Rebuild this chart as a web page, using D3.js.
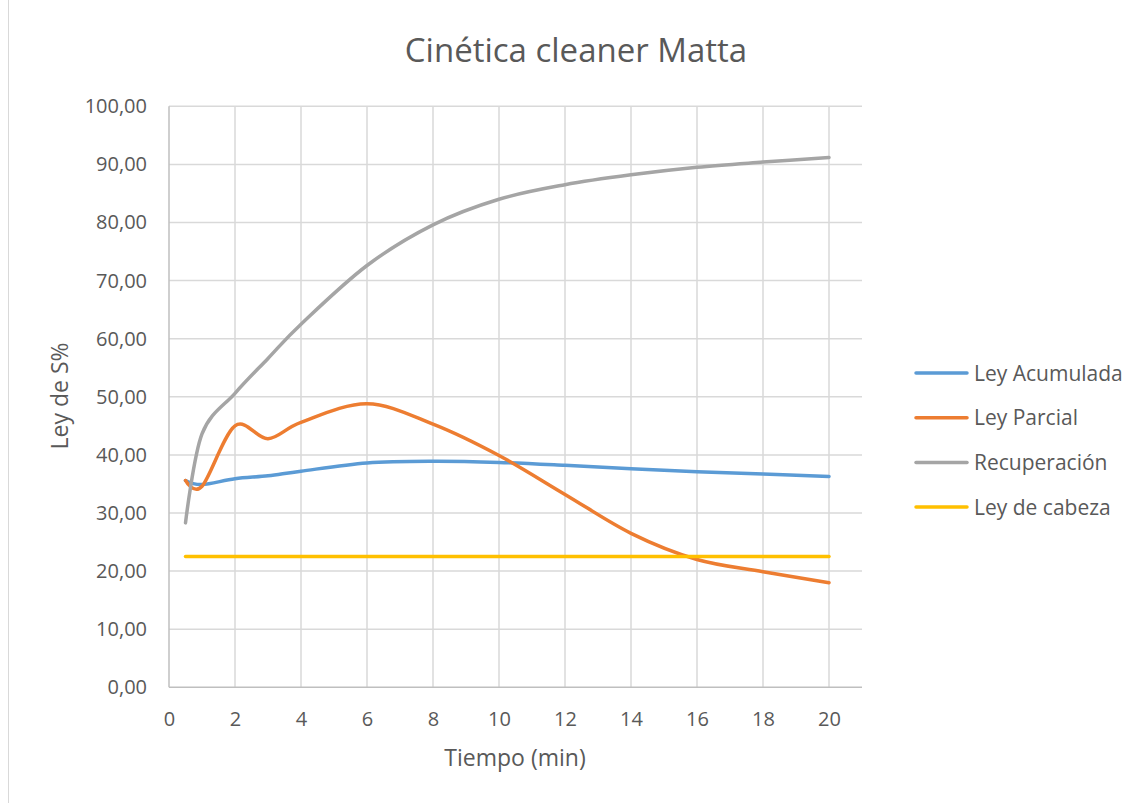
<!DOCTYPE html>
<html>
<head>
<meta charset="utf-8">
<script src="https://cdn.jsdelivr.net/npm/d3@7"></script>
<style>
  html, body { margin: 0; padding: 0; background: #fff; }
  svg { display: block; font-family: "Open Sans", "Liberation Sans", sans-serif; }
</style>
</head>
<body>
<svg id="chart" width="1142" height="803"></svg>
<script>
// Sampling times (min)
const tiempo = [0.5, 1, 2, 3, 4, 6, 8, 10, 12, 14, 16, 18, 20];

// Series values (% S)
const leyAcumulada = [35.6, 34.9, 35.9, 36.4, 37.2, 38.6, 38.9, 38.7, 38.2, 37.6, 37.1, 36.7, 36.3];
const leyParcial   = [35.6, 34.6, 45.0, 42.8, 45.6, 48.8, 45.3, 39.9, 33.2, 26.5, 22.0, 19.9, 18.0];
const recuperacion = [28.3, 43.6, 50.6, 56.6, 62.5, 72.6, 79.6, 84.0, 86.5, 88.2, 89.5, 90.4, 91.2];
const leyCabeza    = [22.5, 22.5, 22.5, 22.5, 22.5, 22.5, 22.5, 22.5, 22.5, 22.5, 22.5, 22.5, 22.5];

const seriesNames  = ["Ley Acumulada", "Ley Parcial", "Recuperación", "Ley de cabeza"];
const seriesValues = [leyAcumulada, leyParcial, recuperacion, leyCabeza];
const seriesColors = ["#5b9bd5", "#ed7d31", "#a5a5a5", "#ffc000"];

const xTicks = [0, 2, 4, 6, 8, 10, 12, 14, 16, 18, 20];
const yTicks = [0, 10, 20, 30, 40, 50, 60, 70, 80, 90, 100];

const titleText = "Cinética cleaner Matta";
const xTitle = "Tiempo (min)";
const yTitle = "Ley de S%";

(function () {
  const svg = d3.select("#chart");
  const textColor = "#595959";

  // Plot area
  const plotLeft = 169, plotRight = 862, plotTop = 106.3, plotBottom = 687.3;

  const x = d3.scaleLinear().domain([0, 21]).range([plotLeft, plotRight]);
  const y = d3.scaleLinear().domain([0, 100]).range([plotBottom, plotTop]);

  // Outer frame edge on the left
  svg.append("line")
    .attr("x1", 8.5).attr("x2", 8.5).attr("y1", 0).attr("y2", 803)
    .attr("stroke", "#d9d9d9").attr("stroke-width", 1);

  // Title
  svg.append("text")
    .attr("x", 576).attr("y", 62)
    .attr("text-anchor", "middle")
    .attr("font-size", 33)
    .attr("fill", textColor)
    .text(titleText);

  // Gridlines
  const grid = svg.append("g");
  grid.selectAll("line.h").data(yTicks.slice(1)).enter().append("line")
    .attr("class", "h")
    .attr("x1", plotLeft).attr("x2", plotRight)
    .attr("y1", d => y(d)).attr("y2", d => y(d))
    .attr("stroke", "#d9d9d9").attr("stroke-width", 1.5);
  grid.selectAll("line.v").data(xTicks.slice(1)).enter().append("line")
    .attr("class", "v")
    .attr("x1", d => x(d)).attr("x2", d => x(d))
    .attr("y1", plotTop).attr("y2", plotBottom)
    .attr("stroke", "#d9d9d9").attr("stroke-width", 1.5);

  // Axes
  const xAxis = svg.append("g").attr("transform", `translate(0,${plotBottom})`)
    .call(d3.axisBottom(x).tickValues(xTicks).tickSize(0).tickPadding(25).tickFormat(d3.format("d")));
  const yAxis = svg.append("g").attr("transform", `translate(${plotLeft},0)`)
    .call(d3.axisLeft(y).tickValues(yTicks).tickSize(0).tickPadding(22)
      .tickFormat(d => d3.format(".2f")(d).replace(".", ",")));

  [xAxis, yAxis].forEach(g => {
    g.select(".domain").attr("stroke", "#bfbfbf").attr("stroke-width", 1.5);
    g.selectAll("text").attr("fill", textColor).attr("font-size", 20)
      .attr("font-family", "\"Open Sans\", \"Liberation Sans\", sans-serif");
  });
  xAxis.select(".domain").attr("d", `M${plotLeft},0H${plotRight}`);
  yAxis.select(".domain").attr("d", `M0,0V${plotTop - plotBottom}`).attr("transform", `translate(0,${plotBottom})`);

  // Axis titles
  svg.append("text")
    .attr("x", 515).attr("y", 766)
    .attr("text-anchor", "middle")
    .attr("font-size", 23).attr("fill", textColor)
    .text(xTitle);
  svg.append("text")
    .attr("transform", "translate(68,396) rotate(-90)")
    .attr("text-anchor", "middle")
    .attr("font-size", 23).attr("fill", textColor)
    .text(yTitle);

  // Smoothed lines
  const line = d3.line()
    .x(d => x(d[0])).y(d => y(d[1]))
    .curve(d3.curveCardinal.tension(0));

  const lines = svg.append("g");
  seriesValues.forEach((vals, i) => {
    lines.append("path")
      .datum(tiempo.map((t, k) => [t, vals[k]]))
      .attr("d", line)
      .attr("fill", "none")
      .attr("stroke", seriesColors[i])
      .attr("stroke-width", 3.5)
      .attr("stroke-linecap", "round")
      .attr("stroke-linejoin", "round");
  });

  // Legend
  const legend = svg.append("g");
  seriesNames.forEach((name, i) => {
    const ly = 373 + i * 44.7;
    legend.append("line")
      .attr("x1", 916).attr("x2", 967).attr("y1", ly).attr("y2", ly)
      .attr("stroke", seriesColors[i]).attr("stroke-width", 3.5)
      .attr("stroke-linecap", "round");
    legend.append("text")
      .attr("x", 974).attr("y", ly + 7.5)
      .attr("font-size", 21).attr("fill", textColor)
      .text(name);
  });
})();
</script>
</body>
</html>
